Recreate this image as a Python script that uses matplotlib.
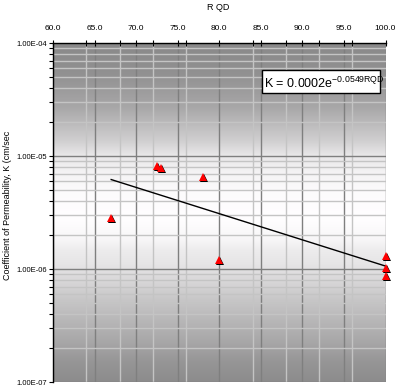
import numpy as np
import matplotlib
matplotlib.use("Agg")
import matplotlib.pyplot as plt
from matplotlib.ticker import FixedLocator, LogLocator, NullFormatter, FuncFormatter
import matplotlib.transforms as mtransforms
from matplotlib.patches import Rectangle

plt.rcParams['font.family'] = ['Liberation Sans', 'DejaVu Sans']
plt.rcParams['mathtext.fontset'] = 'custom'
plt.rcParams['mathtext.rm'] = 'Liberation Sans'
plt.rcParams['mathtext.it'] = 'Liberation Sans'

# data
rqd = [67.0, 72.5, 73.0, 78.0, 80.0, 100.0, 100.0, 100.0]
k_values = [2.83e-6, 8.2e-6, 7.8e-6, 6.5e-6, 1.2e-6, 1.3e-6, 1.02e-6, 8.7e-7]
x_ticks = [60, 65, 70, 75, 80, 85, 90, 95, 100]
y_ticks = [1e-7, 1e-6, 1e-5, 1e-4]
equation_main = "K = 0.0002e"
equation_exp = "-0.0549RQD"

fig = plt.figure(figsize=(3.99, 3.92), dpi=100)
ax = fig.add_axes([53/399, 1-382/392, (385.5-53)/399, (382-43)/392])
ax.set_yscale('log')
ax.set_xlim(60, 100)
ax.set_ylim(1e-7, 1e-4)

# background gradient (top -> bottom)
stops = [(0.0, 0.54), (0.09, 0.57), (0.19, 0.66), (0.29, 0.82), (0.33, 0.91),
         (0.385, 0.96), (0.44, 0.99), (0.52, 1.0), (0.58, 0.97), (0.61, 0.93),
         (0.655, 0.90), (0.70, 0.85), (0.76, 0.78), (0.82, 0.72), (0.88, 0.66),
         (0.94, 0.59), (1.0, 0.55)]
t = np.linspace(0, 1, 400)
vals = np.interp(t, [s[0] for s in stops], [s[1] for s in stops])
img = np.zeros((400, 1, 3))
img[:, 0, 0] = vals
img[:, 0, 1] = vals * 0.995
img[:, 0, 2] = vals
ax.imshow(img, extent=[0, 1, 0, 1], transform=ax.transAxes, aspect='auto',
          zorder=0, interpolation='bilinear')

# grid
ax.xaxis.set_major_locator(FixedLocator(x_ticks))
ax.xaxis.set_minor_locator(FixedLocator(list(range(64, 100, 4))))
ax.yaxis.set_major_locator(FixedLocator(y_ticks))
ax.yaxis.set_minor_locator(LogLocator(base=10, subs=np.arange(2, 10), numticks=20))
ax.yaxis.set_minor_formatter(NullFormatter())
ax.grid(True, which='minor', color='#c4c4c4', linewidth=1.0, zorder=1)
ax.grid(True, which='major', color='#7f7f7f', linewidth=1.0, zorder=1)
ax.set_axisbelow(True)

ax.xaxis.tick_top()
ax.xaxis.set_label_position('top')
ax.xaxis.set_major_formatter(FuncFormatter(lambda v, p: f"{v:.1f}"))
ax.yaxis.set_major_formatter(FuncFormatter(lambda v, p: f"{v:.2E}"))
ax.tick_params(axis='x', which='both', direction='inout', length=4, width=0.8,
               labelsize=6, pad=6, colors='black')
ax.tick_params(axis='y', which='major', direction='out', length=3, width=0.8,
               labelsize=5.5, pad=1)
ax.tick_params(axis='y', which='minor', direction='out', length=3, width=0.8)
for s in ['right', 'bottom']:
    ax.spines[s].set_visible(False)
for s in ['left', 'top']:
    ax.spines[s].set_linewidth(1.0)

fig.text(218/399, 1-7/392, "R QD", fontsize=6.5, ha='center', va='center')
fig.text(8/399, 1-205/392, "Coefficient of Permeability, K (cm/sec",
         fontsize=6.5, rotation=90, ha='center', va='center')

# trendline (exponential fit of data)
xs = np.array(rqd)
slope, intercept = np.polyfit(xs, np.log(k_values), 1)
xl = np.array([xs.min(), xs.max()])
ax.plot(xl, np.exp(intercept + slope * xl), color='black', linewidth=1.0, zorder=3)

# markers with shadow
shadow = mtransforms.offset_copy(ax.transData, fig=fig, x=1.0, y=-1.0, units='dots')
ax.plot(rqd, k_values, linestyle='none', marker='^', markersize=5.5,
        color='black', markeredgewidth=0, transform=shadow, zorder=4, clip_on=False)
ax.plot(rqd, k_values, linestyle='none', marker='^', markersize=5.5,
        color='#ff0000', markeredgewidth=0, zorder=5, clip_on=False)

# equation box
fig.patches.append(Rectangle((262/399, 1-93/392), (380-262)/399, (93-70)/392,
                             transform=fig.transFigure, facecolor='white',
                             edgecolor='black', linewidth=1.0, zorder=6))
fig.text(264/399, 1-83/392, equation_main + r"$^{\mathrm{" + equation_exp + "}}$",
         fontsize=9, ha='left', va='center', zorder=7)

fig.savefig("out.png", dpi=100)
